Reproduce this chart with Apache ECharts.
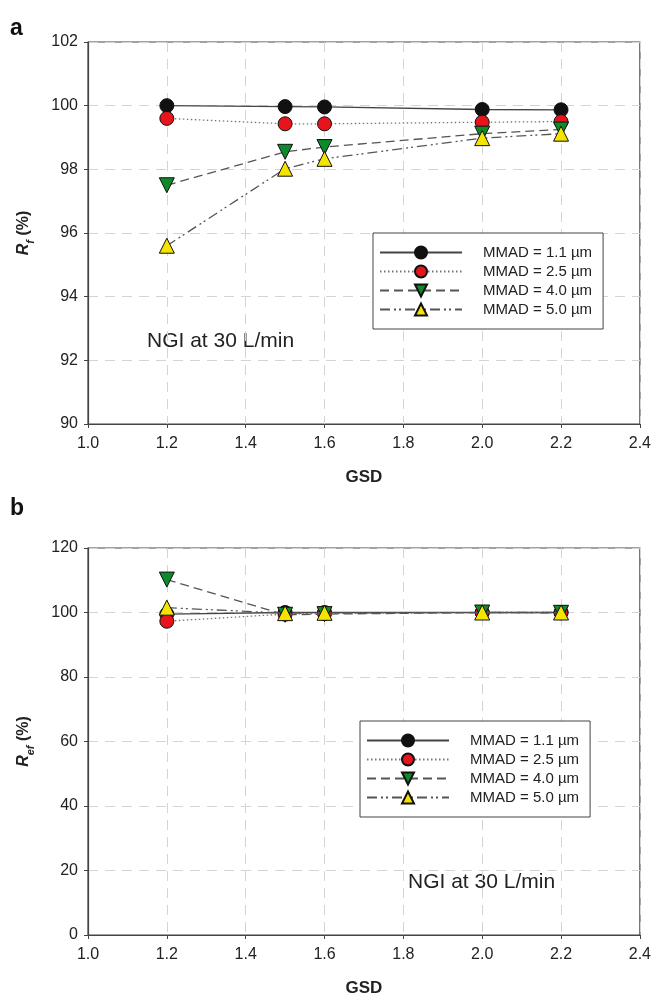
<!DOCTYPE html>
<html><head><meta charset="utf-8">
<script src="https://cdn.jsdelivr.net/npm/echarts@6/dist/echarts.min.js"></script>
<style>html,body{margin:0;padding:0;background:#fff}#c{width:654px;height:1000px}</style>
</head><body><div id="c"></div>
<script>
var gsd = [1.2, 1.5, 1.6, 2.0, 2.2];
var seriesNames = ['MMAD = 1.1 µm', 'MMAD = 2.5 µm', 'MMAD = 4.0 µm', 'MMAD = 5.0 µm'];
// panel a: Rf (%)
var rf11 = [100.0, 99.97, 99.96, 99.88, 99.87];
var rf25 = [99.60, 99.43, 99.43, 99.48, 99.50];
var rf40 = [97.50, 98.55, 98.70, 99.12, 99.25];
var rf50 = [95.60, 98.02, 98.33, 98.98, 99.12];
// panel b: Ref (%)
var ref11 = [99.5, 100.0, 100.0, 100.0, 100.0];
var ref25 = [97.3, 99.5, 99.7, 100.0, 100.0];
var ref40 = [110.2, 99.3, 99.5, 100.0, 99.9];
var ref50 = [101.5, 99.8, 99.9, 100.0, 100.0];
var xTicks = [1.0, 1.2, 1.4, 1.6, 1.8, 2.0, 2.2, 2.4];

function pairs(v){ return gsd.map(function(x,i){ return [x, v[i]]; }); }

var styles = [
  {line:'solid', color:'#444', fill:'#111', symbol:'circle', size:14, rot:0},
  {line:[1.5,2.5], color:'#777', fill:'#e8141b', symbol:'circle', size:14, rot:0},
  {line:[9,5], color:'#555', fill:'#0d8a2a', symbol:'triangle', size:15, rot:180},
  {line:[10,4,2,3,2,4], color:'#555', fill:'#f5e400', symbol:'triangle', size:15, rot:0}
];

function mk(name, data, k, axis){
  var s = styles[k];
  return {
    name: name, type:'line', xAxisIndex:axis, yAxisIndex:axis,
    data: pairs(data), symbol: s.symbol, symbolSize: s.size, symbolRotate: s.rot,
    lineStyle:{color:s.color, width:1.3, type:s.line},
    itemStyle:{color:s.fill, borderColor:'#111', borderWidth:1},
    emphasis:{disabled:true}, animation:false, z: 3 + k
  };
}

var font = 'Liberation Sans, Arial, sans-serif';
function xAx(idx){
  return {
    type:'value', gridIndex:idx, min:1.0, max:2.4, interval:0.2,
    name:'GSD', nameLocation:'middle', nameGap:45,
    nameTextStyle:{fontFamily:font, fontWeight:'bold', fontSize:17, color:'#222'},
    axisLine:{show:true, onZero:false, lineStyle:{color:'#444', width:1.2}},
    axisTick:{show:true, inside:false, length:4, lineStyle:{color:'#444'}},
    axisLabel:{fontFamily:font, fontSize:16, color:'#222', margin:12,
      formatter:function(v){ return v.toFixed(1); }},
    splitLine:{show:true, lineStyle:{color:'#d4d4d4', type:[10,7], width:1}}
  };
}
function yAx(idx, min, max, interval, sub, gap){
  return {
    type:'value', gridIndex:idx, min:min, max:max, interval:interval,
    name:'{r|R}{s|' + sub + '}{p| (%)}', nameLocation:'middle', nameGap:gap, nameRotate:90,
    nameTextStyle:{fontFamily:font, color:'#222',
      rich:{
        r:{fontFamily:font, fontStyle:'italic', fontWeight:'bold', fontSize:16, color:'#222', lineHeight:20, verticalAlign:'bottom'},
        s:{fontFamily:font, fontStyle:'italic', fontWeight:'bold', fontSize:11, color:'#222', lineHeight:15, verticalAlign:'bottom', padding:[0,0,-4,0]},
        p:{fontFamily:font, fontWeight:'bold', fontSize:16, color:'#222', lineHeight:20, verticalAlign:'bottom'}
      }},
    axisLine:{show:true, onZero:false, lineStyle:{color:'#444', width:1.2}},
    axisTick:{show:true, inside:false, length:4, lineStyle:{color:'#444'}},
    axisLabel:{fontFamily:font, fontSize:16, color:'#222', margin:10},
    splitLine:{show:true, lineStyle:{color:'#d4d4d4', type:[10,7], width:1}}
  };
}

function legend(left, top){
  return {
    data: seriesNames.map(function(n){ return {name:n}; }),
    orient:'vertical', left:left, top:top,
    itemWidth:82, itemHeight:15, itemGap:4,
    backgroundColor:'#fff', borderColor:'#444', borderWidth:1, borderRadius:0,
    padding:[12,11,12,6],
    textStyle:{fontFamily:font, fontSize:15, color:'#222', padding:[0,0,0,16]},
    selectedMode:false
  };
}

var chart = echarts.init(document.getElementById('c'), null, {renderer:'canvas'});
var series = [
  mk(seriesNames[0], rf11, 0, 0), mk(seriesNames[1], rf25, 1, 0),
  mk(seriesNames[2], rf40, 2, 0), mk(seriesNames[3], rf50, 3, 0),
  mk(seriesNames[0], ref11, 0, 1), mk(seriesNames[1], ref25, 1, 1),
  mk(seriesNames[2], ref40, 2, 1), mk(seriesNames[3], ref50, 3, 1)
];
chart.setOption({
  backgroundColor:'#fff',
  animation:false,
  grid:[
    {left:88, top:42, width:552, height:382, show:true, borderColor:'#444', borderWidth:1.2, backgroundColor:'transparent'},
    {left:88, top:548, width:552, height:387, show:true, borderColor:'#444', borderWidth:1.2, backgroundColor:'transparent'}
  ],
  xAxis:[xAx(0), xAx(1)],
  yAxis:[yAx(0, 90, 102, 2, 'f', 56), yAx(1, 0, 120, 20, 'ef', 56)],
  legend:[legend(373, 233), legend(360, 721)],
  graphic:[
    {type:'text', left:10, top:17, style:{text:'a', fontFamily:font, fontWeight:'bold', fontSize:23, fill:'#111'}},
    {type:'text', left:10, top:497, style:{text:'b', fontFamily:font, fontWeight:'bold', fontSize:23, fill:'#111'}},
    {type:'text', left:147, top:331, style:{text:'NGI at 30 L/min', fontFamily:font, fontSize:21, fill:'#222'}},
    {type:'text', left:408, top:872, style:{text:'NGI at 30 L/min', fontFamily:font, fontSize:21, fill:'#222'}}
  ],
  series: series
});
</script></body></html>
